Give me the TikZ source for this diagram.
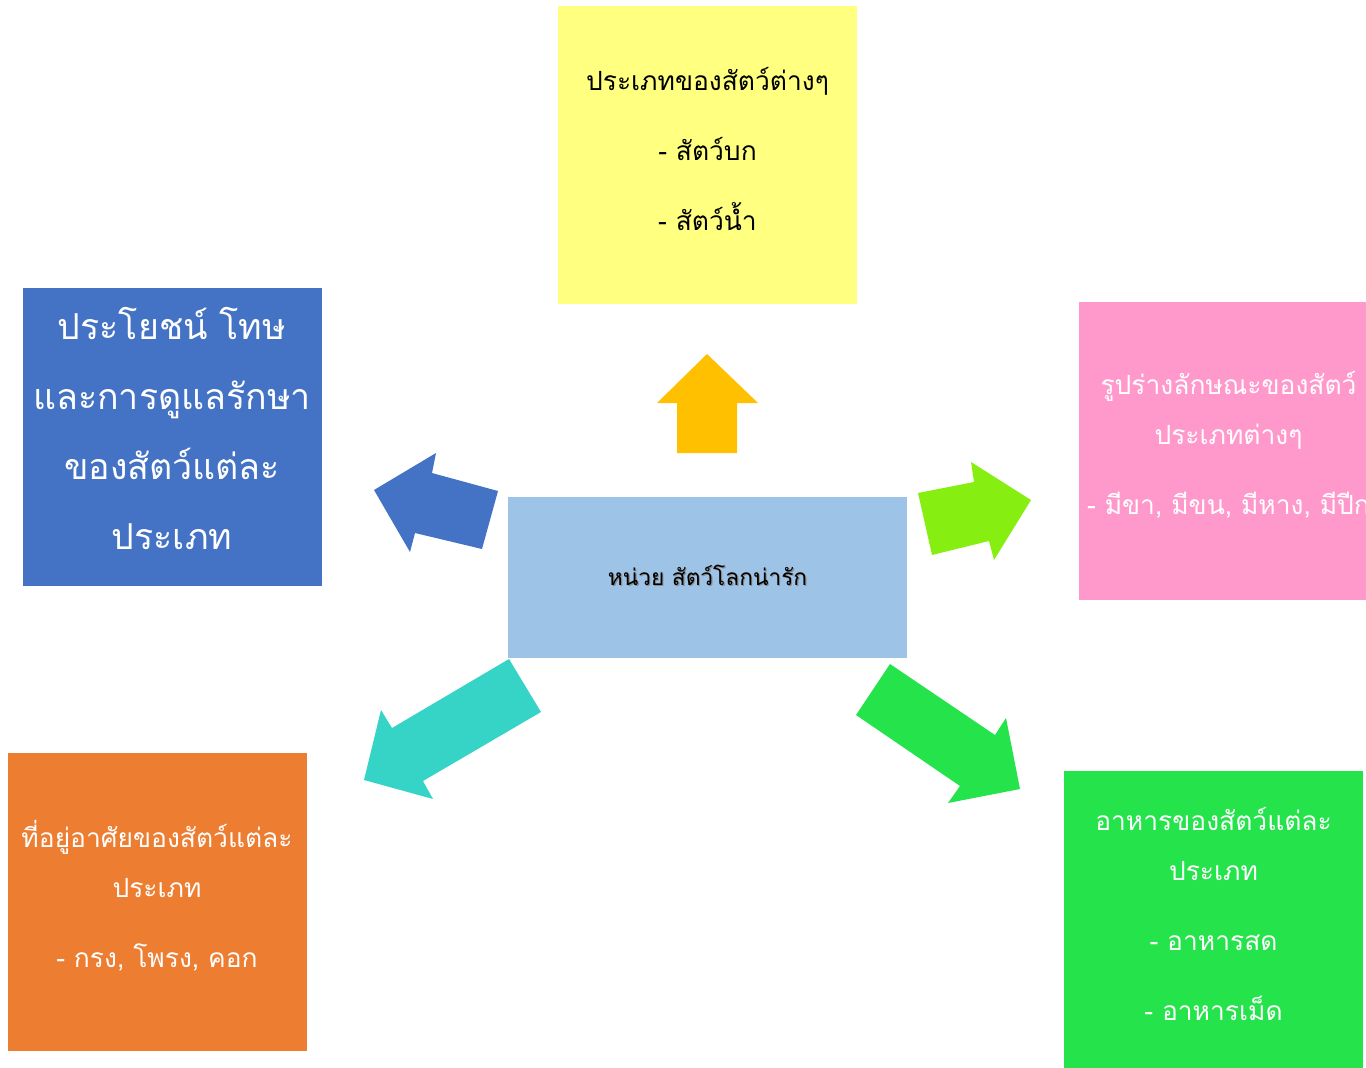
\documentclass[tikz,border=0pt]{standalone}
\usepackage{fontspec}
\newfontfamily\thaifont[Script=Thai]{Loma}
\usetikzlibrary{positioning}

\definecolor{cardyellow}{HTML}{FFFF80}
\definecolor{cardblue}{HTML}{4472C4}
\definecolor{cardpink}{HTML}{FF99CC}
\definecolor{cardorange}{HTML}{ED7D31}
\definecolor{cardgreen}{HTML}{24E34B}
\definecolor{hubblue}{HTML}{9DC3E6}
\definecolor{arrowgold}{HTML}{FFC000}
\definecolor{arrowlime}{HTML}{86EF11}
\definecolor{arrowteal}{HTML}{35D4C6}

\tikzset{
    card/.style={
        inner sep=0pt,
        minimum width=224.25pt,
        minimum height=223.5pt
    },
    cardtext/.style={
        inner sep=0pt,
        align=center,
        yshift=4.5pt,
        font=\thaifont\fontsize{19.8}{37.5}\selectfont
    },
    bigtext/.style={
        cardtext,
        yshift=1.5pt,
        font=\thaifont\fontsize{26.8}{52.5}\selectfont
    },
    hub/.style={
        fill=hubblue,
        inner sep=0pt,
        minimum width=299.25pt,
        minimum height=120.75pt
    },
    hubtext/.style={
        font=\thaifont\fontsize{17}{20}\selectfont
    }
}

\begin{document}
\begin{tikzpicture}[x=0.75pt, y=-0.75pt]
\useasboundingbox (0,0) rectangle (1366,1067);
\clip (0,0) rectangle (1366,1067);

% centre box
\node[hub] (hub) at (707.5,577.5) {};
\node[hubtext, text=black!45] (hubshadow) at (708.7,576.2) {หน่วย สัตว์โลกน่ารัก};
\node[hubtext] (title) at (707.5,575) {หน่วย สัตว์โลกน่ารัก};

% the five cards
\node[card, fill=cardyellow] (kinds) at (707.5,155) {};
\node[cardtext] (kindstext) at (kinds.center)
  {ประเภทของสัตว์ต่างๆ\\[15pt]- สัตว์บก\\[15pt]- สัตว์น้ำ};
\node[card, fill=cardblue] (care) at (172,436.5) {};
\node[bigtext, text=white] (caretext) at (care.center)
  {ประโยชน์ โทษ\\และการดูแลรักษา\\ของสัตว์แต่ละ\\ประเภท};
\node[card, fill=cardpink] (shape) at (1228.5,451) {};
\node[cardtext, text=white] (shapetext) at (shape.center)
  {รูปร่างลักษณะของสัตว์\\ประเภทต่างๆ\\[15pt]- มีขา, มีขน, มีหาง, มีปีก};
\node[card, fill=cardorange] (home) at (157,901.5) {};
\node[cardtext, text=white] (hometext) at (home.center)
  {ที่อยู่อาศัยของสัตว์แต่ละ\\ประเภท\\[15pt]- กรง, โพรง, คอก};
\node[card, fill=cardgreen] (food) at (1213.5,920) {};
\node[cardtext, text=white] (foodtext) at (food.center)
  {อาหารของสัตว์แต่ละ\\ประเภท\\[15pt]- อาหารสด\\[15pt]- อาหารเม็ด};

% block arrows
\fill[arrowgold] (677,453) -- (677,403) -- (657,403) -- (707,354) -- (758,403) -- (737,403) -- (737,453) -- cycle;
\fill[cardblue] (498,491) -- (432,473) -- (436,453) -- (374,490) -- (410,552) -- (415,533) -- (482,549) -- cycle;
\fill[arrowlime] (918,493) -- (974,482) -- (971,462) -- (1031,500) -- (994,560) -- (989,541) -- (932,555) -- cycle;
\fill[arrowteal] (509,659) -- (392,728) -- (381,710) -- (364,780) -- (433,799) -- (423,781) -- (541,712) -- cycle;
\fill[cardgreen] (890,664) -- (995,735) -- (1006,718) -- (1020,789) -- (948,803) -- (960,786) -- (856,715) -- cycle;

\end{tikzpicture}
\end{document}
